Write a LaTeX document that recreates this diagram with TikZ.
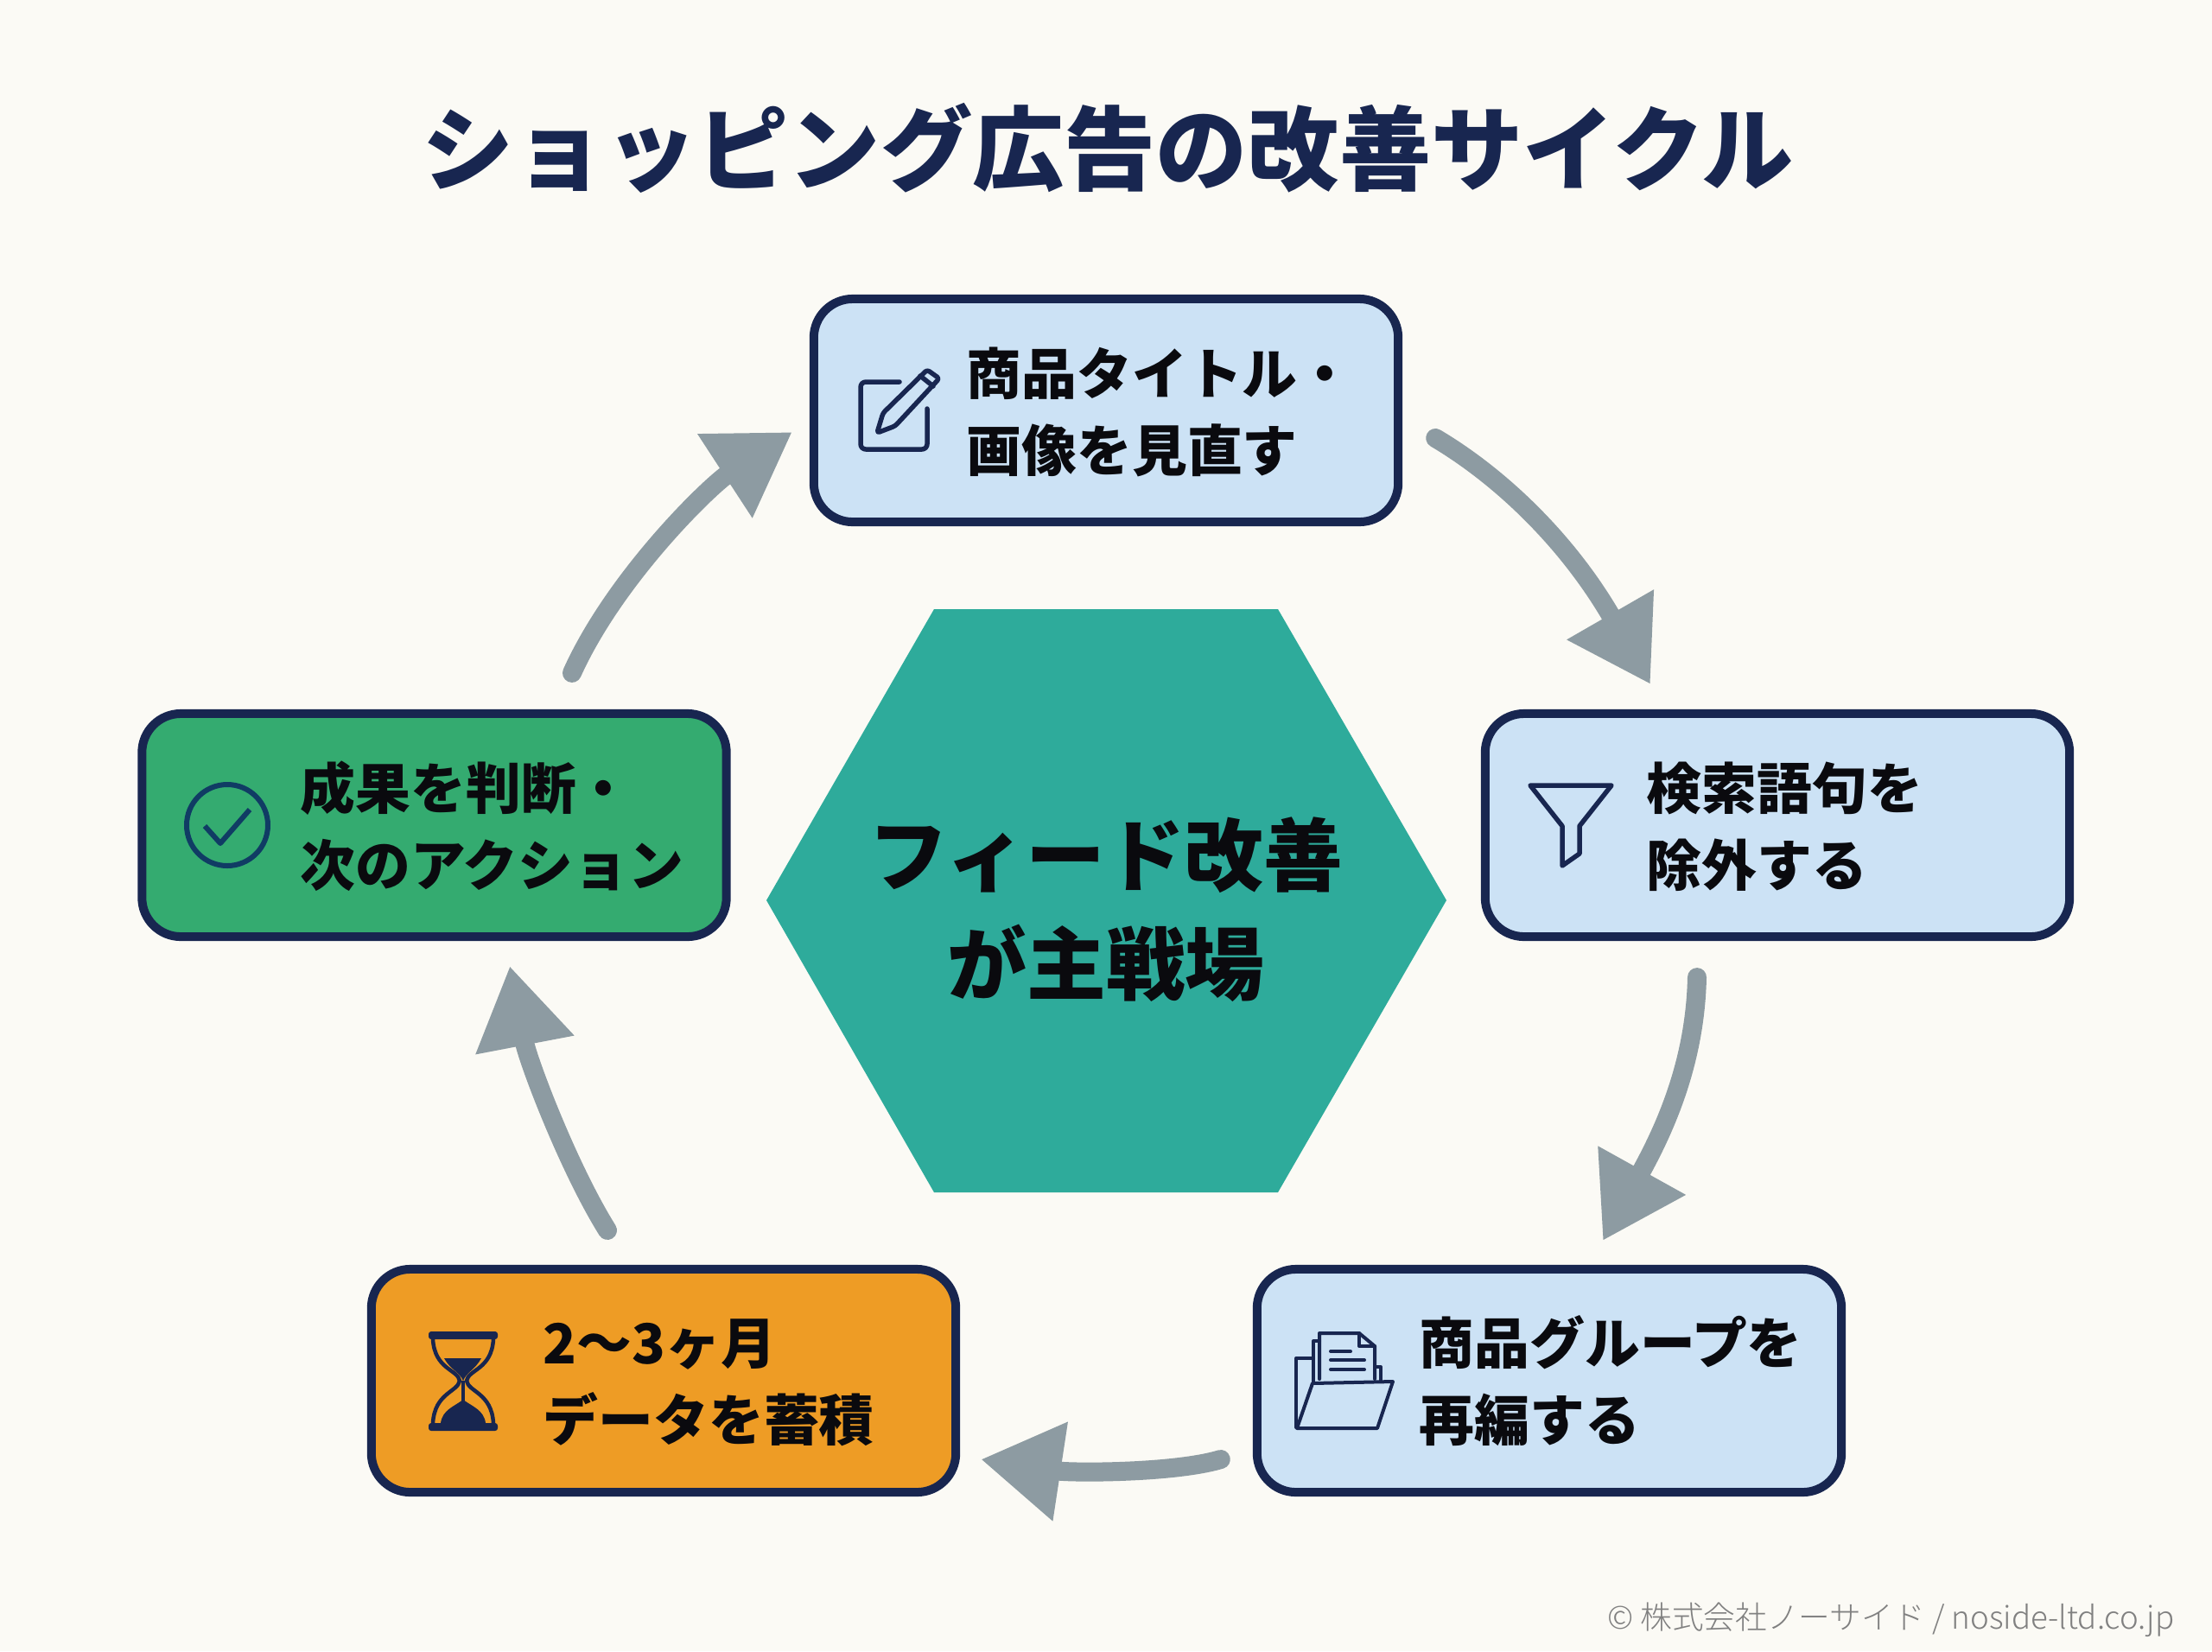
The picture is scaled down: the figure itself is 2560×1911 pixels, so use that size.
\documentclass[tikz,border=0pt]{standalone}
\usepackage{fontspec}
\setmainfont{Noto Sans CJK JP}
\newfontfamily\jplight{Noto Sans CJK JP Light}
\usetikzlibrary{arrows.meta}
\definecolor{fbpaper}{RGB}{251,250,245}
\definecolor{fbnavy}{RGB}{24,38,80}
\definecolor{fbsky}{RGB}{204,226,245}
\definecolor{fbgreen}{RGB}{52,171,112}
\definecolor{fborange}{RGB}{238,156,37}
\definecolor{fbteal}{RGB}{46,171,155}
\definecolor{fbarrow}{RGB}{141,155,162}
\definecolor{fbink}{RGB}{10,10,14}
\definecolor{fbnote}{RGB}{128,128,128}
\definecolor{fbcheck}{RGB}{16,60,100}
\tikzset{
  stepbox/.style={draw=fbnavy, line width=.1cm, rounded corners=.45cm,
    minimum width=6.76cm, minimum height=2.58cm},
  steptext/.style={anchor=west, inner sep=0pt, align=left, text=fbink,
    font=\fontsize{18.15}{25.3}\selectfont\bfseries},
  flow/.style={draw=fbarrow, line width=.22cm, line cap=round,
    -{Triangle[length=.93cm,width=1.1cm]}},
  iconline/.style={draw=fbnavy, line width=.055cm, line join=round, line cap=round, fill=none}
}

\begin{document}
\begin{tikzpicture}[x=.01cm, y=-.01cm]
\fill[fbpaper] (0,0) rectangle (2560,1911);
\useasboundingbox (0,0) rectangle (2560,1911);

% Title
\node[inner sep=0pt, text=fbnavy, font=\fontsize{30.2}{36}\selectfont\bfseries] (title) at (1282,171) {ショッピング広告の改善サイクル};

% Hexagon
\fill[fbteal] (1081,705) -- (1479,705) -- (1674,1042) -- (1479,1380) -- (1081,1380) -- (887,1042) -- cycle;
\node[inner sep=0pt, align=center, text=fbink, font=\fontsize{26.1}{35.8}\selectfont\bfseries] (hub) at (1280,1053) {フィード改善\\が主戦場};

% Step boxes
\node[stepbox, fill=fbsky] (feed) at (1280,475) {};
\node[stepbox, fill=fbsky] (query) at (2057,955) {};
\node[stepbox, fill=fbsky] (group) at (1793,1598) {};
\node[stepbox, fill=fborange] (data) at (768,1598) {};
\node[stepbox, fill=fbgreen] (judge) at (502.5,955) {};

% Labels
\node[steptext] (feedtext) at (1118,477) {商品タイトル・\\画像を見直す};
\node[steptext] (querytext) at (1905,957) {検索語句を\\除外する};
\node[steptext] (grouptext) at (1642,1598) {商品グループを\\再編する};
\node[steptext] (datatext) at (628,1600) {2〜3ヶ月\\データを蓄積};
\node[steptext] (judgetext) at (347,956) {成果を判断・\\次のアクション};

% Pencil icon
\draw[iconline, rounded corners=.06cm] (1041,442) -- (996,442) -- (996,520) -- (1073,520) -- (1073,473);
\draw[iconline, rounded corners=.03cm] (1015,501) -- (1022,478) -- (1073,428) -- (1087,438) -- (1036,493) -- cycle;
\draw[iconline] (1065,435) -- (1080,447);

% Funnel icon
\draw[iconline] (1771,909) -- (1865,909) -- (1828,956) -- (1828,988) -- (1808,1002) -- (1808,956) -- cycle;

% Folder icon
\draw[iconline, line width=.04cm] (1520,1572) -- (1500,1572) -- (1500,1652);
\draw[iconline, line width=.04cm] (1520,1601) -- (1520,1552) -- (1527,1552);
\draw[iconline, line width=.04cm] (1527,1596) -- (1527,1543) -- (1573,1543) -- (1591,1558) -- (1591,1596);
\draw[iconline, line width=.04cm] (1573,1543) -- (1573,1558) -- (1591,1558);
\draw[iconline, line width=.04cm] (1591,1582) -- (1598,1582) -- (1598,1599);
\draw[iconline, line width=.04cm] (1540,1564) -- (1563,1564);
\draw[iconline, line width=.04cm] (1540,1574) -- (1579,1574);
\draw[iconline, line width=.04cm] (1540,1585) -- (1579,1585);
\draw[iconline, line width=.04cm] (1519,1601) -- (1612,1599) -- (1594,1653) -- (1501,1653) -- cycle;

% Hourglass icon
\fill[fbnavy, rounded corners=.03cm] (496,1541) rectangle (576,1550);
\fill[fbnavy, rounded corners=.03cm] (496,1647) rectangle (576,1656);
\draw[iconline, line width=.045cm] (501,1550) .. controls (503,1585) and (530,1585) .. (532,1598) .. controls (530,1611) and (503,1612) .. (501,1647);
\draw[iconline, line width=.045cm] (571,1550) .. controls (569,1585) and (542,1585) .. (540,1598) .. controls (542,1611) and (569,1612) .. (571,1647);
\fill[fbnavy] (514,1572) -- (557,1572) .. controls (550,1585) and (540,1588) .. (536,1598) .. controls (532,1588) and (521,1585) .. (514,1572) -- cycle;
\fill[fbnavy] (534,1598) rectangle (538,1622);
\fill[fbnavy] (510,1647) .. controls (512,1632) and (525,1628) .. (536,1620) .. controls (547,1628) and (560,1632) .. (562,1647) -- cycle;

% Check icon
\draw[iconline, line width=.06cm, draw=fbcheck] (263,955) circle (47);
\draw[iconline, line width=.06cm, draw=fbcheck, line cap=butt] (237,956) -- (255,976) -- (289,937);

% Arrows
\draw[flow] ([shift={(38,32)}]feed.east) .. controls +(76,45) and +(-95,-165) .. ([shift={(-147,-29)}]query.north);
\draw[flow] ([shift={(-93,42)}]query.south) .. controls +(-2,94) and +(75,-135) .. ([shift={(62,-28)}]group.north);
\draw[flow] ([shift={(-37,91)}]group.west) .. controls +(-53,16) and +(105,16) .. ([shift={(24,91)}]data.east);
\draw[flow] ([shift={(-65,-40)}]data.north) .. controls +(-45,-72) and +(21,110) .. ([shift={(87.5,29)}]judge.south);
\draw[flow] ([shift={(159.5,-42)}]judge.north) .. controls +(50,-111) and +(-95,62) .. ([shift={(-20,25)}]feed.west);

% Credit
\node[anchor=east, inner sep=0pt, text=fbnote, font=\jplight\fontsize{10.43}{12}\selectfont] (credit) at (2517,1875) {© 株式会社ノーサイド / noside-ltd.co.jp};
\end{tikzpicture}
\end{document}
